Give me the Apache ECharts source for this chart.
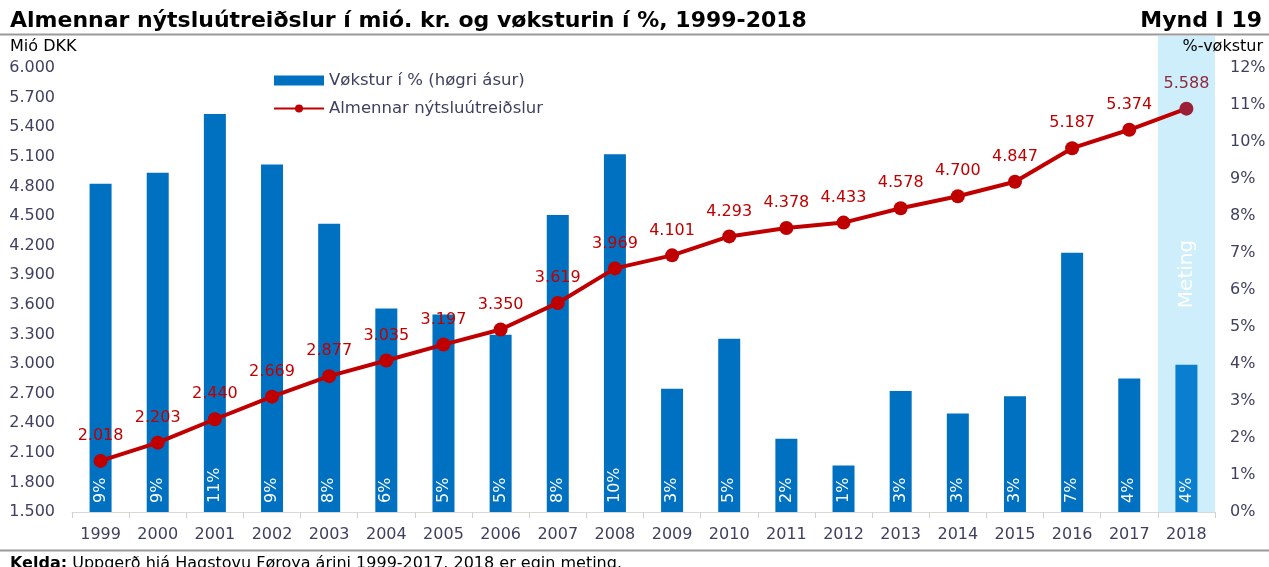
<!DOCTYPE html>
<html>
<head>
<meta charset="utf-8">
<script src="https://cdn.jsdelivr.net/npm/echarts@6/dist/echarts.min.js"></script>
<style>html,body{margin:0;padding:0;background:#fff}#c{width:1269px;height:567px}</style>
</head>
<body>
<div id="c"></div>
<script>
const years = ['1999','2000','2001','2002','2003','2004','2005','2006','2007','2008','2009','2010','2011','2012','2013','2014','2015','2016','2017','2018'];
const spending = [2018,2203,2440,2669,2877,3035,3197,3350,3619,3969,4101,4293,4378,4433,4578,4700,4847,5187,5374,5588];
const growth = [8.87,9.17,10.76,9.39,7.79,5.5,5.34,4.79,8.03,9.67,3.33,4.68,1.98,1.26,3.27,2.66,3.13,7.01,3.61,3.98];
const estimateMask = [null,null,null,null,null,null,null,null,null,null,null,null,null,null,null,null,null,null,null,1];
const leftTicks = {min:1500, max:6000, step:300};
const rightTicks = {min:0, max:12, step:1};

const FONT = 'DejaVu Sans';
const AX = '#3f3f5f';
function fmt(v){ const t=Math.floor(v/1000), r=Math.round(v%1000); return t>0 ? t+'.'+String(r).padStart(3,'0') : String(r); }

// extend axes so that the plot reaches up to the title rule
const gridTop = 36, gridBottom = 55;
const plotH = 567 - gridBottom - 68;
const extra = 68 - gridTop;
const leftMax = leftTicks.max + extra * (leftTicks.max - leftTicks.min) / plotH;
const rightMax = rightTicks.max + extra * (rightTicks.max - rightTicks.min) / plotH;

const chart = echarts.init(document.getElementById('c'));
chart.setOption({
  animation:false,
  textStyle:{fontFamily:FONT},
  title:[
    {text:'Almennar nýtsluútreiðslur í mió. kr. og vøksturin í %, 1999-2018', left:5, top:5, textStyle:{fontFamily:FONT, fontSize:22, fontWeight:'bold', color:'#000'}},
    {text:'Mynd I 19', right:2, top:5, textStyle:{fontFamily:FONT, fontSize:22, fontWeight:'bold', color:'#000'}},
    {text:'Mió DKK', left:5, top:34, textStyle:{fontFamily:FONT, fontSize:16, fontWeight:'normal', color:'#000'}},
    {text:'%-vøkstur', right:1, top:34, textStyle:{fontFamily:FONT, fontSize:16, fontWeight:'normal', color:'#000'}},
    {text:'{b|Kelda:} Uppgerð hjá Hagstovu Føroya árini 1999-2017. 2018 er egin meting.', left:5, top:551,
     textStyle:{fontFamily:FONT, fontSize:16, fontWeight:'normal', color:'#000', rich:{b:{fontFamily:FONT, fontSize:16, fontWeight:'bold', color:'#000'}}}}
  ],
  graphic:[
    {type:'line', shape:{x1:0, y1:34.5, x2:1269, y2:34.5}, style:{stroke:'#9a9a9a', lineWidth:2}, z:100},
    {type:'line', shape:{x1:0, y1:550.5, x2:1269, y2:550.5}, style:{stroke:'#9a9a9a', lineWidth:2}, z:100}
  ],
  legend:{
    orient:'vertical', left:268, top:67, itemWidth:50, itemHeight:10, itemGap:11,
    textStyle:{fontFamily:FONT, fontSize:16.5, color:AX},
    data:[{name:'Vøkstur í % (høgri ásur)', icon:'rect'}, {name:'Almennar nýtsluútreiðslur'}]
  },
  grid:{left:72, right:54, top:gridTop, bottom:gridBottom},
  xAxis:[
    {type:'category', data:years, axisLine:{lineStyle:{color:'#d9d9d9'}}, axisTick:{show:true, length:6, lineStyle:{color:'#d0d0d0'}},
     axisLabel:{fontFamily:FONT, fontSize:16, color:AX, margin:15}},
    {type:'category', data:years, show:false}
  ],
  yAxis:[
    {type:'value', min:leftTicks.min, max:leftMax, interval:leftTicks.step, splitLine:{show:false}, axisLine:{show:false}, axisTick:{show:false},
     axisLabel:{fontFamily:FONT, fontSize:16, color:AX, margin:17, showMaxLabel:false, formatter:v=> v>leftTicks.max ? '' : fmt(v)}},
    {type:'value', min:rightTicks.min, max:rightMax, interval:rightTicks.step, splitLine:{show:false}, axisLine:{show:false}, axisTick:{show:false},
     axisLabel:{fontFamily:FONT, fontSize:16, color:AX, margin:15, showMaxLabel:false, formatter:v=> v>rightTicks.max ? '' : v+'%'}},
    {type:'value', min:0, max:1, show:false}
  ],
  series:[
    {type:'bar', name:'Meting', xAxisIndex:1, yAxisIndex:2, data:estimateMask, barWidth:'100%', z:0, silent:true,
     itemStyle:{color:'#cdeefa'},
     label:{show:true, position:'inside', rotate:90, formatter:'Meting', color:'#fff', fontFamily:FONT, fontSize:20}},
    {type:'bar', name:'Vøkstur í % (høgri ásur)', yAxisIndex:1, barWidth:22, z:2,
     data:growth.map((v,i)=> i===growth.length-1 ? {value:v, itemStyle:{color:'#0a7fcf'}} : v),
     itemStyle:{color:'#0070c0'},
     label:{show:true, position:'insideBottom', rotate:90, align:'left', verticalAlign:'middle', distance:9,
            color:'#fff', fontFamily:FONT, fontSize:16, formatter:p=> Math.round(p.value)+'%'}},
    {type:'line', name:'Almennar nýtsluútreiðslur', yAxisIndex:0, z:5, symbol:'circle', symbolSize:14,
     lineStyle:{color:'#c00000', width:4}, itemStyle:{color:'#c00000'},
     data:spending.map((v,i)=> i===spending.length-1 ? {value:v, itemStyle:{color:'#9c2035'}, label:{color:'#8e2a3c'}} : v),
     label:{show:true, position:'top', distance:10, color:'#c00000', fontFamily:FONT, fontSize:16, formatter:p=>fmt(p.value)}}
  ]
});
</script>
</body>
</html>
